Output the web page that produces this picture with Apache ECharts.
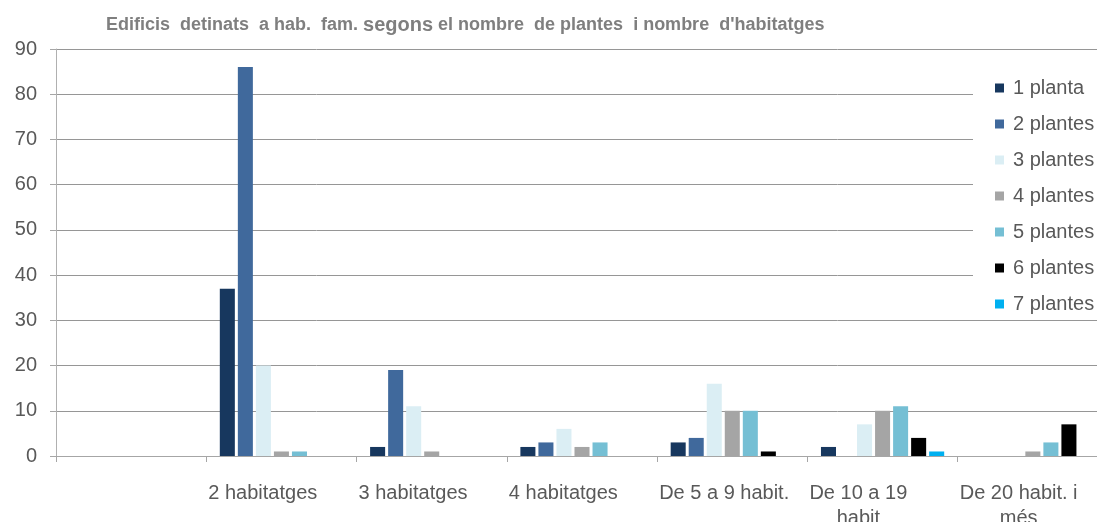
<!DOCTYPE html>
<html>
<head>
<meta charset="utf-8">
<script src="https://cdn.jsdelivr.net/npm/echarts@6/dist/echarts.min.js"></script>
<style>
html,body{margin:0;padding:0;background:#fff;}
#chart{width:1097px;height:522px;}
</style>
</head>
<body>
<div id="chart"></div>
<script>
const categories = ['', '2 habitatges', '3 habitatges', '4 habitatges', 'De 5 a 9 habit.', 'De 10 a 19\nhabit', 'De 20 habit. i\nmés'];
const seriesNames = ['1 planta', '2 plantes', '3 plantes', '4 plantes', '5 plantes', '6 plantes', '7 plantes'];
const planta1 = [null, 37, 2, 2, 3, 2, 0];
const plantes2 = [null, 86, 19, 3, 4, 0, 0];
const plantes3 = [null, 20, 11, 6, 16, 7, 0];
const plantes4 = [null, 1, 1, 2, 10, 10, 1];
const plantes5 = [null, 1, 0, 3, 10, 11, 3];
const plantes6 = [null, 0, 0, 0, 1, 4, 7];
const plantes7 = [null, 0, 0, 0, 0, 1, 0];
const yTicks = { min: 0, max: 90, interval: 10 };
const titleMain = ['Edificis  detinats  a hab.  fam. ', 'segons', ' el nombre  de plantes  i nombre  d\'habitatges'];

const colors = ['#17375E', '#40699C', '#DBEEF4', '#A5A5A5', '#75BFD4', '#000000', '#00B0F0'];
const seriesData = [planta1, plantes2, plantes3, plantes4, plantes5, plantes6, plantes7];

const W = 1097;
const gridLeft = 56, gridRight = -11;
const bandW = (W - gridLeft - gridRight) / categories.length;
const labelFont = '20px "Liberation Sans", Arial, sans-serif';

const cv = document.createElement('canvas').getContext('2d');
cv.font = labelFont;
const rich = {};
categories.forEach((c, i) => {
  const lines = c.split('\n');
  const mw = Math.max(...lines.map(l => cv.measureText(l).width), 1);
  rich['t' + i] = { width: mw, align: 'center', fontSize: 20, fontFamily: '"Liberation Sans", Arial, sans-serif', color: '#595959', lineHeight: 25 };
  rich['s' + i] = { width: Math.max(bandW - 4 - mw, 0), fontSize: 20, lineHeight: 25 };
});

const chart = echarts.init(document.getElementById('chart'), null, { renderer: 'canvas' });
chart.setOption({
  animation: false,
  backgroundColor: '#fff',
  title: {
    text: '{b|' + titleMain[0] + '}{n|' + titleMain[1] + '}{b|' + titleMain[2] + '}',
    left: 101,
    top: 10,
    textStyle: {
      rich: {
        b: { fontSize: 18, fontWeight: 'bold', color: '#7F7F7F', fontFamily: '"Liberation Sans", Arial, sans-serif' },
        n: { fontSize: 20, color: '#7F7F7F', fontFamily: '"Liberation Sans", Arial, sans-serif' }
      }
    }
  },
  legend: {
    orient: 'vertical',
    left: 973,
    top: 60,
    padding: [18, 30, 4, 22],
    backgroundColor: '#fff',
    itemWidth: 9,
    itemHeight: 9,
    itemGap: 16,
    icon: 'rect',
    data: seriesNames,
    textStyle: { fontSize: 20, color: '#595959', fontFamily: '"Liberation Sans", Arial, sans-serif', lineHeight: 20, padding: [0, 0, 0, 4] }
  },
  grid: { left: gridLeft, right: gridRight, top: 49, bottom: 66, containLabel: false, outerBoundsMode: 'none' },
  xAxis: {
    type: 'category',
    data: categories,
    boundaryGap: true,
    axisLine: { show: true, lineStyle: { color: '#A6A6A6', width: 1 } },
    axisTick: { show: true, length: 6, alignWithLabel: false, interval: 0, lineStyle: { color: '#A6A6A6' } },
    axisLabel: {
      interval: 0,
      margin: 25,
      align: 'center',
      hideOverlap: false,
      formatter: (v, i) => v.split('\n').map(l => '{t' + i + '|' + l + '}{s' + i + '| }').join('\n'),
      rich: rich
    },
    splitLine: { show: false }
  },
  yAxis: {
    type: 'value',
    min: yTicks.min,
    max: yTicks.max,
    interval: yTicks.interval,
    axisLine: { show: true, lineStyle: { color: '#B0B0B0' } },
    axisTick: { show: true, length: 6, lineStyle: { color: '#A6A6A6' } },
    axisLabel: { margin: 19, fontSize: 20, color: '#595959', fontFamily: '"Liberation Sans", Arial, sans-serif' },
    splitLine: { show: true, lineStyle: { color: '#969696', width: 1 } }
  },
  series: seriesNames.map((n, k) => ({
    name: n,
    type: 'bar',
    data: seriesData[k],
    barGap: '20%',
    barCategoryGap: '18%',
    itemStyle: { color: colors[k] }
  }))
});
</script>
</body>
</html>
